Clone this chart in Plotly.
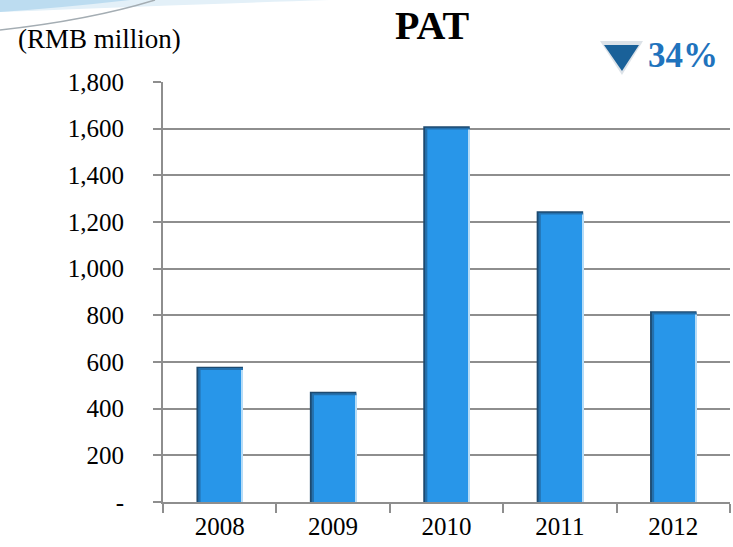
import plotly.graph_objects as go

# PAT by year, RMB million
years = ["2008", "2009", "2010", "2011", "2012"]
pat = [580, 472, 1610, 1246, 818]

y_tickvals = [0, 200, 400, 600, 800, 1000, 1200, 1400, 1600, 1800]
y_ticktext = ["-", "200", "400", "600", "800", "1,000", "1,200", "1,400", "1,600", "1,800"]

W, H = 733, 547
ML, MR, MT, MB = 163, 3, 82, 45
PW, PH = W - ML - MR, H - MT - MB

SERIF = "Liberation Serif"
GRID = "#8e8e8e"

BAR_W = 0.41
HALF = BAR_W / 2

fig = go.Figure()

# Layered bars give each column a shaded left/top edge and a light right rim
layers = [
    # (left inset, right inset, top drop in data units, colour)
    (0.000, 0.000, 0, "#1d4a70"),
    (0.016, 0.000, 6, "#2470ad"),
    (0.036, 0.010, 14, "#2896e9"),
]
for i, (li, ri, drop, col) in enumerate(layers):
    fig.add_trace(go.Bar(
        x=years,
        y=[v - drop for v in pat],
        width=BAR_W - li - ri,
        offset=-HALF + li,
        marker=dict(color=col, line=dict(width=0)),
        hoverinfo="skip" if i else "y",
        showlegend=False,
    ))
fig.add_trace(go.Bar(
    x=years,
    y=[v - 14 for v in pat],
    width=0.010,
    offset=HALF - 0.010,
    marker=dict(color="#b6dcf7", line=dict(width=0)),
    hoverinfo="skip",
    showlegend=False,
))


def px(x, y):
    """Pixel position on the page -> paper coordinates."""
    return (x - ML) / PW, (H - MB - y) / PH


def pt(x, y):
    return "%.4f,%.4f" % px(x, y)


shapes = [
    # faint slide-background swoosh in the top-left corner
    dict(type="path", xref="paper", yref="paper", layer="below",
         path=f"M {pt(0, 0)} L {pt(330, 0)} Q {pt(200, 4)} {pt(0, 12)} Z",
         fillcolor="#e3f0f8", line=dict(width=0)),
    dict(type="path", xref="paper", yref="paper", layer="below",
         path=f"M {pt(0, 0)} L {pt(130, 0)} Q {pt(60, 8)} {pt(0, 12)} Z",
         fillcolor="#bcdcf0", line=dict(width=0)),
    dict(type="path", xref="paper", yref="paper", layer="below",
         path=f"M {pt(0, 30)} Q {pt(90, 20)} {pt(155, 0)}",
         line=dict(color="#a4adb3", width=1.5)),
    # down-arrow marker next to the change figure, with a soft shadow
    dict(type="path", xref="paper", yref="paper", layer="above",
         path=f"M {pt(600, 41)} L {pt(643, 41)} L {pt(622, 75)} Z",
         fillcolor="rgba(20,60,100,0.15)", line=dict(width=0)),
    dict(type="path", xref="paper", yref="paper", layer="above",
         path=f"M {pt(604, 45)} L {pt(639, 45)} L {pt(622, 71)} Z",
         fillcolor="#1a6199", line=dict(width=0)),
]


def label(text, x, y, size, color, xanchor="center", family=SERIF):
    xp, _ = px(x, 0)
    _, yp = px(0, y)
    return dict(text=text, x=xp, y=yp, xref="paper", yref="paper",
                xanchor=xanchor, yanchor="middle", showarrow=False,
                font=dict(family=family, size=size, color=color))


annotations = [
    label("<b>PAT</b>", 432, 25, 40, "#000000"),
    label("(RMB million)", 16, 39, 27, "#000000", xanchor="left"),
    label("<b>34%</b>", 646, 55, 35, "#1f73bd", xanchor="left"),
]

fig.update_layout(
    width=W, height=H, autosize=False,
    margin=dict(l=ML, r=MR, t=MT, b=MB),
    paper_bgcolor="white", plot_bgcolor="white",
    barmode="overlay",
    shapes=shapes,
    annotations=annotations,
    xaxis=dict(
        type="category", range=[-0.5, 4.5],
        tickson="boundaries", ticks="outside", ticklen=9, tickwidth=2, tickcolor=GRID,
        showline=True, linecolor=GRID, linewidth=2,
        showgrid=False,
        tickfont=dict(family=SERIF, size=25, color="#000000"),
        ticklabelstandoff=1,
    ),
    yaxis=dict(
        range=[0, 1800],
        tickvals=y_tickvals, ticktext=y_ticktext,
        ticks="outside", ticklen=8, tickwidth=2, tickcolor=GRID,
        showline=True, linecolor=GRID, linewidth=2,
        showgrid=True, gridcolor=GRID, gridwidth=2,
        zeroline=False,
        tickfont=dict(family=SERIF, size=25, color="#000000"),
        ticklabelstandoff=24,
    ),
)

fig.write_html("out.html")
